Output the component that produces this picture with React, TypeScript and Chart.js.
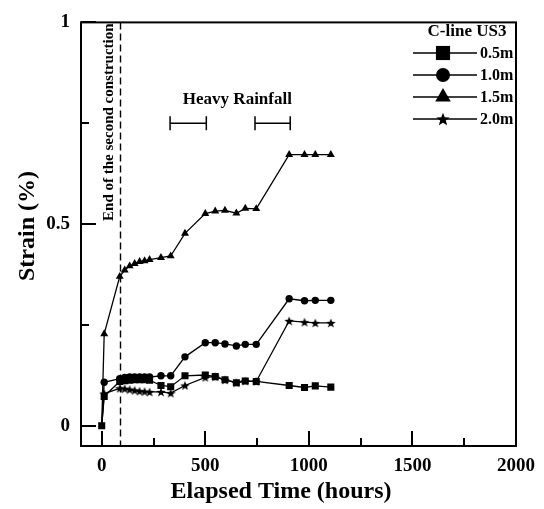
import { useEffect, useRef } from 'react';
import { Chart, registerables } from 'chart.js';
import { drawPoint } from 'chart.js/helpers';

Chart.register(...registerables);

// ---------------- data ----------------
const timeHours = [0, 12, 87, 111, 135, 159, 183, 207, 231, 286, 333, 402, 500, 548, 595, 650, 693, 746, 905, 979, 1031, 1106];
const strain05 = [0, 0.073, 0.11, 0.112, 0.113, 0.114, 0.114, 0.114, 0.113, 0.1, 0.097, 0.124, 0.126, 0.122, 0.114, 0.107, 0.111, 0.11, 0.1, 0.095, 0.099, 0.096];
const strain10 = [0, 0.108, 0.117, 0.12, 0.121, 0.121, 0.121, 0.121, 0.121, 0.124, 0.124, 0.171, 0.206, 0.206, 0.203, 0.198, 0.202, 0.202, 0.315, 0.31, 0.311, 0.311];
const strain15 = [0, 0.228, 0.37, 0.386, 0.396, 0.402, 0.407, 0.409, 0.412, 0.417, 0.421, 0.477, 0.526, 0.532, 0.534, 0.527, 0.539, 0.538, 0.672, 0.672, 0.672, 0.672];
const strain20 = [0, 0.08, 0.093, 0.092, 0.09, 0.088, 0.086, 0.085, 0.084, 0.084, 0.081, 0.1, 0.12, 0.122, 0.114, 0.107, 0.111, 0.11, 0.26, 0.257, 0.255, 0.255];
const seriesLabels = ['0.5m', '1.0m', '1.5m', '2.0m'];
const legendTitle = 'C-line US3';

const xTicks = [0, 250, 500, 750, 1000, 1250, 1500, 1750, 2000];
const xLabelTicks = [0, 500, 1000, 1500, 2000];
const yTicks = [0, 0.25, 0.5, 0.75, 1];
const yLabelTicks = [0, 0.5, 1];

const constructionEnd = 88;
const constructionLabel = 'End of the second construction';
const rainfallStart = [330, 740];
const rainfallEnd = [505, 910];
const rainfallLevel = 0.75;
const rainfallLabel = 'Heavy Rainfall';
const rainfallLabelPos = [655, 0.808];

const xTitle = 'Elapsed Time (hours)';
const yTitle = 'Strain (%)';

// ---------------- styles ----------------
const FONT = "'Liberation Serif', 'Times New Roman', serif";

function makeStar(size: number): HTMLCanvasElement {
  const c = document.createElement('canvas');
  c.width = size;
  c.height = size;
  const g = c.getContext('2d')!;
  const cx = size / 2;
  const cy = size / 2 + size * 0.05;
  const R = size / 2;
  const r = R * 0.42;
  g.beginPath();
  for (let i = 0; i < 10; i++) {
    const a = -Math.PI / 2 + (i * Math.PI) / 5;
    const rad = i % 2 === 0 ? R : r;
    const px = cx + rad * Math.cos(a);
    const py = cy + rad * Math.sin(a);
    if (i === 0) g.moveTo(px, py);
    else g.lineTo(px, py);
  }
  g.closePath();
  g.fillStyle = '#000';
  g.fill();
  return c;
}

export default function App() {
  const ref = useRef<HTMLCanvasElement | null>(null);

  useEffect(() => {
    if (!ref.current) return;
    const starSmall = makeStar(10);
    const starBig = makeStar(14);

    const styles: any[] = ['rect', 'circle', 'triangle', starSmall];
    const radii = [5, 3.7, 4.6, 5];
    const legendStyles: any[] = ['rect', 'circle', 'triangle', starBig];
    const legendRadii = [10, 7, 9, 7];
    const series = [strain05, strain10, strain15, strain20];

    const datasets = series.map((vals, i) => ({
      label: seriesLabels[i],
      data: timeHours.map((t, j) => ({ x: t, y: vals[j] })),
      borderColor: '#000',
      backgroundColor: '#000',
      borderWidth: 1.3,
      pointStyle: styles[i],
      pointRadius: (ctx: any) => (i !== 0 && ctx.dataIndex === 0 ? 0 : radii[i]),
      pointBorderWidth: 0,
      pointBackgroundColor: '#000',
      pointBorderColor: '#000',
      tension: 0,
    }));

    const decor = {
      id: 'decor',
      beforeDatasetsDraw(chart: any) {
        const { ctx, chartArea, scales } = chart;
        const xs = scales.x;
        const ys = scales.y;
        ctx.save();
        // construction end dashed line
        const dx = Math.round(xs.getPixelForValue(constructionEnd)) + 0.5;
        ctx.strokeStyle = '#000';
        ctx.lineWidth = 1.4;
        ctx.setLineDash([7, 4]);
        ctx.beginPath();
        ctx.moveTo(dx, chartArea.top);
        ctx.lineTo(dx, chartArea.bottom);
        ctx.stroke();
        ctx.setLineDash([]);
        // rainfall brackets
        const by = ys.getPixelForValue(rainfallLevel);
        ctx.lineWidth = 1.5;
        rainfallStart.forEach((s, k) => {
          const x1 = xs.getPixelForValue(s);
          const x2 = xs.getPixelForValue(rainfallEnd[k]);
          ctx.beginPath();
          ctx.moveTo(x1, by);
          ctx.lineTo(x2, by);
          ctx.moveTo(x1, by - 7);
          ctx.lineTo(x1, by + 7);
          ctx.moveTo(x2, by - 7);
          ctx.lineTo(x2, by + 7);
          ctx.stroke();
        });
        ctx.fillStyle = '#000';
        ctx.font = `bold 17px ${FONT}`;
        ctx.textAlign = 'center';
        ctx.textBaseline = 'middle';
        ctx.fillText(rainfallLabel, xs.getPixelForValue(rainfallLabelPos[0]), ys.getPixelForValue(rainfallLabelPos[1]));
        // rotated construction label
        ctx.save();
        ctx.translate(dx - 11, chartArea.top + 1);
        ctx.rotate(-Math.PI / 2);
        ctx.font = `bold 15px ${FONT}`;
        ctx.textAlign = 'right';
        ctx.textBaseline = 'middle';
        ctx.fillText(constructionLabel, 0, 0);
        ctx.restore();
        ctx.restore();
      },
      afterDraw(chart: any) {
        const { ctx, chartArea, scales } = chart;
        const xs = scales.x;
        const ys = scales.y;
        ctx.save();
        ctx.strokeStyle = '#000';
        ctx.lineWidth = 2;
        // frame
        ctx.strokeRect(chartArea.left, chartArea.top, chartArea.right - chartArea.left, chartArea.bottom - chartArea.top);
        // inner ticks
        ctx.beginPath();
        xTicks.forEach((v) => {
          const px = Math.round(xs.getPixelForValue(v));
          const len = xLabelTicks.includes(v) ? 15 : 8;
          ctx.moveTo(px, chartArea.bottom);
          ctx.lineTo(px, chartArea.bottom - len);
        });
        yTicks.forEach((v) => {
          const py = Math.round(ys.getPixelForValue(v));
          const len = yLabelTicks.includes(v) ? 15 : 8;
          ctx.moveTo(chartArea.left, py);
          ctx.lineTo(chartArea.left + len, py);
        });
        ctx.stroke();
        // axis titles
        ctx.fillStyle = '#000';
        ctx.font = `bold 24px ${FONT}`;
        ctx.textAlign = 'center';
        ctx.textBaseline = 'middle';
        ctx.fillText(xTitle, 281, 492);
        ctx.save();
        ctx.translate(28, 226);
        ctx.rotate(-Math.PI / 2);
        ctx.fillText(yTitle, 0, 0);
        ctx.restore();
        // legend
        ctx.font = `bold 17px ${FONT}`;
        ctx.textAlign = 'center';
        ctx.fillText(legendTitle, 467, 32);
        ctx.font = `bold 16px ${FONT}`;
        ctx.textAlign = 'left';
        ctx.lineWidth = 1.5;
        seriesLabels.forEach((lab, i) => {
          const y = 53 + i * 22;
          ctx.beginPath();
          ctx.moveTo(413, y);
          ctx.lineTo(477, y);
          ctx.stroke();
          drawPoint(ctx, { pointStyle: legendStyles[i], radius: legendRadii[i], rotation: 0, borderWidth: 0 } as any, 443, y);
          ctx.fillStyle = '#000';
          ctx.fillText(lab, 480, y + 1);
        });
        ctx.restore();
      },
    };

    const chart = new Chart(ref.current, {
      type: 'line',
      data: { datasets: datasets as any },
      options: {
        animation: false,
        responsive: false,
        layout: { padding: { top: 15, right: 22, left: 0, bottom: 0 } },
        plugins: { legend: { display: false }, tooltip: { enabled: false } },
        elements: { point: { backgroundColor: '#000', borderWidth: 0 } },
        scales: {
          x: {
            type: 'linear',
            min: -100,
            max: 2000,
            grid: { display: false, drawTicks: false },
            border: { display: false },
            afterBuildTicks: (s: any) => {
              s.ticks = xTicks.map((v) => ({ value: v }));
            },
            afterFit: (s: any) => {
              s.height = 63;
            },
            ticks: {
              autoSkip: false,
              maxRotation: 0,
              padding: 9,
              color: '#000',
              font: { family: FONT, size: 19, weight: 'bold' },
              callback: (v: any) => (xLabelTicks.includes(Number(v)) ? String(v) : ''),
            },
          },
          y: {
            type: 'linear',
            min: -0.05,
            max: 1,
            grid: { display: false, drawTicks: false },
            border: { display: false },
            afterBuildTicks: (s: any) => {
              s.ticks = yTicks.map((v) => ({ value: v }));
            },
            afterFit: (s: any) => {
              s.width = 81;
            },
            ticks: {
              autoSkip: false,
              padding: 11,
              color: '#000',
              font: { family: FONT, size: 19, weight: 'bold' },
              callback: (v: any) => (yLabelTicks.includes(Number(v)) ? String(v) : ''),
            },
          },
        },
      },
      plugins: [decor],
    });
    return () => chart.destroy();
  }, []);

  return (
    <div style={{ position: 'absolute', left: 0, top: 0, width: 544, height: 509, background: '#fff' }}>
      <canvas ref={ref} width={544} height={509} style={{ display: 'block' }} />
    </div>
  );
}
